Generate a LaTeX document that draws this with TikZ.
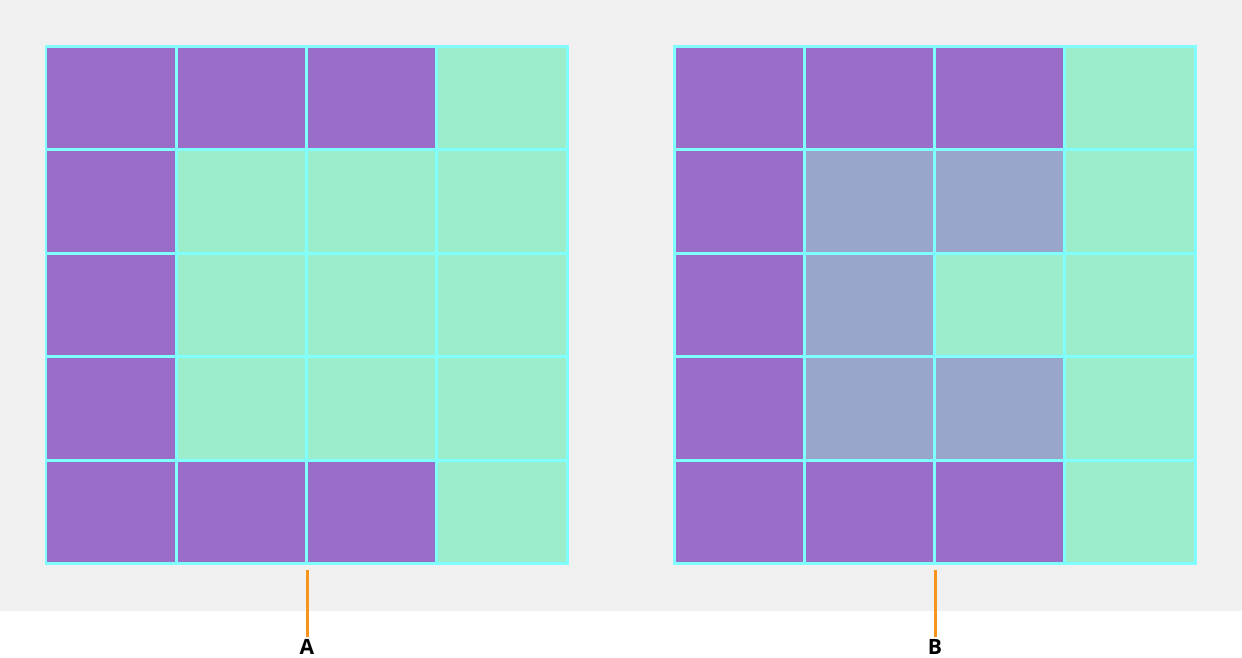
\documentclass[tikz,border=0pt]{standalone}
\usepackage{fontspec}
\setmainfont{Open Sans}
\usepackage{tikz}
\usetikzlibrary{positioning, calc}
\definecolor{morado}{HTML}{9A6EC8}
\definecolor{verde}{HTML}{9CEDCB}
\definecolor{lila}{HTML}{9AA5CA}
\definecolor{cian}{HTML}{80FFFF}
\definecolor{fondo}{HTML}{F0F0F0}
\definecolor{naranja}{HTML}{F7941D}
\tikzset{
  celda/.style={draw=cian, line width=0.06cm},
  guia/.style={naranja, line width=0.06cm},
  etiqueta/.style={font=\fontsize{12}{14}\selectfont\bfseries, text=black,
    inner xsep=1pt, inner ysep=1pt}
}
\begin{document}
\begin{tikzpicture}[x=0.02cm, y=-0.02cm]

  % --- Fondo ---
  \useasboundingbox (0,0) rectangle (1242,657);
  \fill[fondo] (0,0) rectangle (1242,611);

  % --- Rejilla A ---
  \def\xa{46} \def\ya{46} \def\w{130.25} \def\h{103.5}
  \foreach \r/\a/\b/\c/\d in {0/morado/morado/morado/verde,
      1/morado/verde/verde/verde, 2/morado/verde/verde/verde,
      3/morado/verde/verde/verde, 4/morado/morado/morado/verde} {
    \foreach \col/\clr in {0/\a, 1/\b, 2/\c, 3/\d} {
      \draw[celda, fill=\clr] ({\xa+\col*\w},{\ya+\r*\h}) rectangle ++(\w,\h);
    }
  }

  % --- Rejilla B ---
  \def\xb{674}
  \foreach \r/\a/\b/\c/\d in {0/morado/morado/morado/verde,
      1/morado/lila/lila/verde, 2/morado/lila/verde/verde,
      3/morado/lila/lila/verde, 4/morado/morado/morado/verde} {
    \foreach \col/\clr in {0/\a, 1/\b, 2/\c, 3/\d} {
      \draw[celda, fill=\clr] ({\xb+\col*\w},{\ya+\r*\h}) rectangle ++(\w,\h);
    }
  }

  % --- Etiquetas ---
  \coordinate (tA) at (307,570);
  \coordinate (tB) at (935,570);
  \node[etiqueta] (etqA) at (307,647) {A};
  \node[etiqueta] (etqB) at (935,647) {B};
  \draw[guia] (tA) -- (etqA.north);
  \draw[guia] (tB) -- (etqB.north);

\end{tikzpicture}
\end{document}
